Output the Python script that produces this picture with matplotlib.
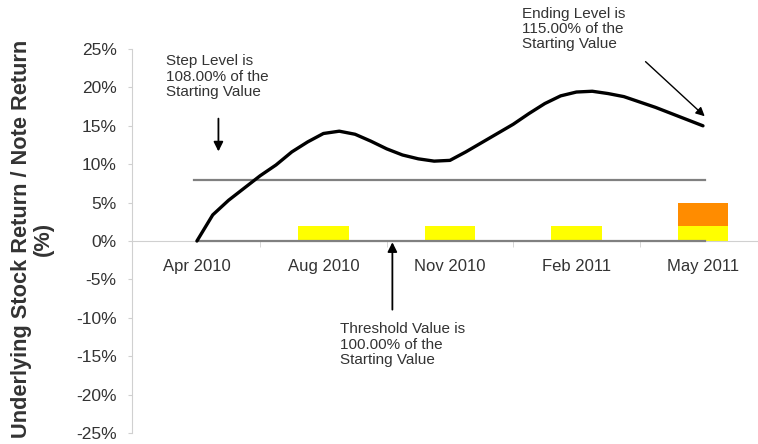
import numpy as np
import matplotlib.pyplot as plt

plt.rcParams['font.family'] = ['Liberation Sans', 'DejaVu Sans']

# category axis
categories = ["Apr 2010", "Aug 2010", "Nov 2010", "Feb 2011", "May 2011"]

# stock return line (position in category units, %)
line_pos = [0, 0.125, 0.25, 0.375, 0.5, 0.625, 0.75, 0.875, 1.0, 1.125, 1.25,
            1.375, 1.5, 1.625, 1.75, 1.875, 2.0, 2.125, 2.25, 2.375, 2.5,
            2.625, 2.75, 2.875, 3.0, 3.125, 3.25, 3.375, 3.5, 3.625, 3.75,
            3.875, 4.0]
line_ret = [0, 3.4, 5.3, 6.9, 8.5, 9.9, 11.6, 12.9, 14.0, 14.3, 13.9,
            13.0, 12.0, 11.2, 10.7, 10.4, 10.5, 11.6, 12.8, 14.0, 15.2,
            16.6, 17.9, 18.9, 19.4, 19.5, 19.2, 18.8, 18.1, 17.4, 16.6,
            15.8, 15.0]

# note return bars
coupon = [0, 2, 2, 2, 2]
extra = [0, 0, 0, 0, 3]

step_level = 8
threshold = 0

fig = plt.figure(figsize=(7.58, 4.44), dpi=100)
ax = fig.add_axes([0.174, 0.0248, 0.826, 0.8648])

x = np.arange(len(categories))
bx = x[1:]
ax.bar(bx, coupon[1:], width=0.4, color="#ffff00", zorder=2)
ax.bar(bx, extra[1:], width=0.4, bottom=coupon[1:], color="#ff8c00", zorder=2)

ax.plot([-0.02, 4.02], [step_level, step_level], color="#808080", lw=1.6, zorder=3)
ax.plot([0, 4.02], [threshold, threshold], color="#808080", lw=1.6, zorder=3)
ax.plot(line_pos, line_ret, color="black", lw=2.4, zorder=4,
        solid_joinstyle="round", solid_capstyle="round")

txt = dict(fontsize=11, color="#333333", linespacing=1.12, va="top", ha="left")
ax.text(-0.245, 24.3, "Step Level is\n108.00% of the\nStarting Value", **txt)
ax.annotate("", xy=(0.17, 11.3), xytext=(0.17, 16.3),
            arrowprops=dict(arrowstyle="-|>", color="black", lw=1.3,
                            mutation_scale=14))
ax.text(2.57, 30.5, "Ending Level is\n115.00% of the\nStarting Value", **txt)
ax.annotate("", xy=(4.03, 16.0), xytext=(3.53, 23.6),
            arrowprops=dict(arrowstyle="-|>", color="black", lw=1.0,
                            mutation_scale=13))
ax.text(1.13, -10.6, "Threshold Value is\n100.00% of the\nStarting Value", **txt)
ax.annotate("", xy=(1.545, 0.2), xytext=(1.545, -9.3),
            arrowprops=dict(arrowstyle="-|>", color="black", lw=1.3,
                            mutation_scale=14))

ax.set_xlim(-0.514, 4.435)
ax.set_ylim(-25, 25)
ax.set_yticks(np.arange(-25, 26, 5))
ax.set_yticklabels([f"{v}%" for v in range(-25, 26, 5)])
ax.set_xticks(x)
ax.set_xticklabels(categories)
ax.set_xticks(x[:-1] + 0.5, minor=True)

ax.spines["top"].set_visible(False)
ax.spines["right"].set_visible(False)
ax.spines["left"].set_color("#d0d0d0")
ax.spines["bottom"].set_color("#d0d0d0")
ax.spines["bottom"].set_position(("data", 0))
ax.tick_params(axis="y", colors="#d0d0d0", length=3, pad=8, labelsize=12.5,
               labelcolor="#333333")
ax.tick_params(axis="x", which="major", length=0, pad=13, labelsize=12,
               labelcolor="#333333")
ax.tick_params(axis="x", which="minor", length=4, color="#d0d0d0")

fig.text(0.043, 1 - 239 / 444, "Underlying Stock Return / Note Return\n(%)",
         rotation=90, ha="center", va="center", fontsize=15.7,
         fontweight="bold", color="#333333", multialignment="center",
         linespacing=1.05)

fig.savefig("out.png", dpi=100)
